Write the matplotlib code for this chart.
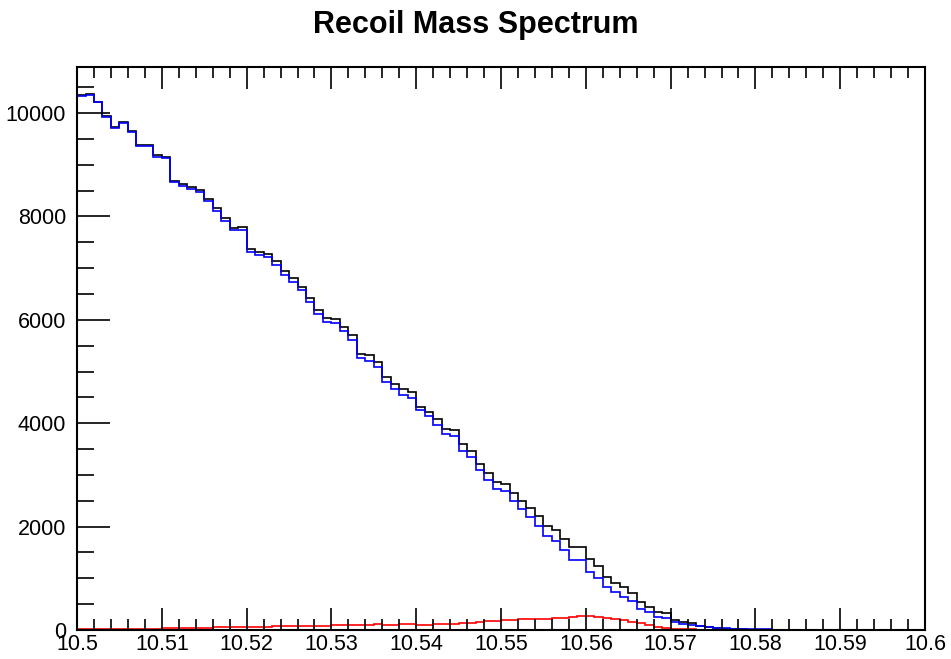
import numpy as np
import matplotlib
matplotlib.use('Agg')
import matplotlib.pyplot as plt
from matplotlib.ticker import MultipleLocator

plt.rcParams['font.family'] = ['Liberation Sans', 'DejaVu Sans']

# Histogram binning: 100 bins from 10.5 to 10.6
X_LO, X_HI, N_BINS = 10.5, 10.6, 100

# total (black)
total = [10340, 10360, 10220, 9940, 9730, 9830, 9660, 9380, 9375, 9180,
         9155, 8690, 8625, 8575, 8520, 8335, 8160, 7960, 7785, 7800,
         7375, 7310, 7270, 7135, 6940, 6800, 6640, 6420, 6195, 6035,
         6020, 5860, 5700, 5345, 5310, 5185, 4895, 4765, 4665, 4605,
         4320, 4217, 4075, 3894, 3862, 3598, 3462, 3217, 3043, 2869,
         2830, 2650, 2495, 2360, 2211, 2012, 1928, 1766, 1600, 1600,
         1375, 1238, 1031, 915, 826, 710, 548, 439, 354, 323,
         193, 161, 130, 83, 58, 39, 25, 18, 12, 8,
         6, 4, 3, 2, 1, 0, 0, 0, 0, 0,
         0, 0, 0, 0, 0, 0, 0, 0, 0, 0]

# signal (blue)
signal = [10330, 10345, 10210, 9925, 9715, 9815, 9640, 9360, 9355, 9155,
          9125, 8660, 8590, 8530, 8480, 8290, 8110, 7910, 7735, 7745,
          7315, 7250, 7210, 7070, 6870, 6730, 6570, 6345, 6115, 5955,
          5940, 5775, 5610, 5255, 5200, 5090, 4795, 4660, 4555, 4495,
          4255, 4145, 3971, 3791, 3752, 3462, 3340, 3089, 2901, 2721,
          2682, 2489, 2334, 2180, 2017, 1824, 1721, 1547, 1354, 1354,
          1128, 1012, 838, 729, 645, 561, 400, 354, 258, 226,
          148, 122, 97, 77, 64, 45, 35, 28, 22, 18,
          15, 12, 8, 5, 2, 0, 0, 0, 0, 0,
          0, 0, 0, 0, 0, 0, 0, 0, 0, 0]

# background (red)
background = [15, 12, 10, 14, 15, 18, 20, 22, 25, 28,
              30, 32, 40, 45, 42, 48, 50, 52, 55, 60,
              62, 64, 66, 70, 72, 75, 78, 80, 82, 85,
              88, 90, 92, 95, 100, 112, 100, 104, 108, 110,
              100, 100, 120, 122, 125, 142, 145, 148, 168, 172,
              195, 198, 205, 210, 215, 222, 226, 230, 250, 262,
              276, 242, 226, 207, 188, 155, 129, 97, 58, 39,
              22, 15, 10, 8, 5, 4, 3, 2, 1, 0,
              0, 0, 0, 0, 0, 0, 0, 0, 0, 0,
              0, 0, 0, 0, 0, 0, 0, 0, 0, 0]

edges = np.linspace(X_LO, X_HI, N_BINS + 1)

fig = plt.figure(figsize=(9.51, 6.59), dpi=100)
ax = fig.add_axes([0.081, 0.044, 0.8917, 0.8543])

ax.stairs(total, edges, color='black', linewidth=1.2, baseline=None)
ax.stairs(signal, edges, color='blue', linewidth=1.2, baseline=None)
ax.stairs(background, edges, color='red', linewidth=1.2, baseline=None)

ax.set_xlim(X_LO, X_HI)
ax.set_ylim(0, 10890)

ax.xaxis.set_major_locator(MultipleLocator(0.01))
ax.xaxis.set_minor_locator(MultipleLocator(0.002))
ax.yaxis.set_major_locator(MultipleLocator(2000))
ax.yaxis.set_minor_locator(MultipleLocator(500))
ax.xaxis.set_major_formatter(plt.FuncFormatter(lambda v, p: f'{v:g}'))

ax.tick_params(axis='x', which='both', direction='in', top=True, bottom=True,
               labelsize=15.5, pad=3)
ax.tick_params(axis='x', which='major', length=16, width=1.2)
ax.tick_params(axis='x', which='minor', length=8, width=1.2)
ax.tick_params(axis='y', which='both', direction='in', left=True, right=False,
               labelsize=15.5, pad=8)
ax.tick_params(axis='y', which='major', length=24, width=1.2)
ax.tick_params(axis='y', which='minor', length=12, width=1.2)

for s in ax.spines.values():
    s.set_linewidth(1.5)

fig.suptitle('Recoil Mass Spectrum', fontsize=22, fontweight='bold', y=0.985)

fig.savefig('out.png', dpi=100)
